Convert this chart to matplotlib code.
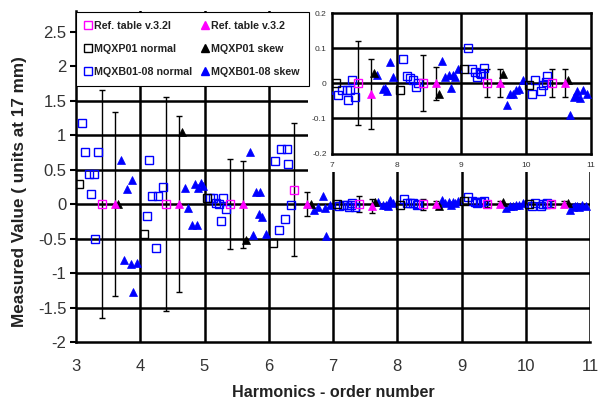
import matplotlib
matplotlib.use("Agg")
import matplotlib.pyplot as plt
from matplotlib.lines import Line2D
from matplotlib.patches import Rectangle

plt.rcParams['font.family'] = ['Liberation Sans', 'DejaVu Sans']

# ---------------- data ----------------
# Reference table (normal), open magenta squares with error bars
ref_n_x = [3.40, 4.40, 5.40, 6.40, 7.40, 8.40, 9.40, 10.40]
ref_n_y = [0.0, 0.0, 0.0, 0.21, 0.0, 0.0, 0.0, 0.0]
ref_n_err = [1.65, 1.55, 0.65, 0.97, 0.12, 0.08, 0.04, 0.04]

# Reference table (skew), magenta triangles with error bars
ref_s_x = [3.60, 4.60, 5.60, 6.60, 7.60, 8.60, 9.60, 10.60]
ref_s_y = [0.0, 0.0, 0.0, 0.0, -0.031, 0.0, 0.0, 0.0]
ref_s_err = [1.33, 1.28, 0.63, 0.18, 0.10, 0.048, 0.04, 0.04]

# MQXP01 normal / skew
mqxp_n_x = [3.04, 4.06, 5.04, 6.07, 7.06, 8.05, 9.04, 10.05]
mqxp_n_y = [0.29, -0.43, 0.09, -0.56, 0.0, -0.019, 0.04, -0.005]
mqxp_s_x = [3.66, 4.65, 5.64, 6.65, 7.65, 8.65, 9.65, 10.65]
mqxp_s_y = [0.0, 1.05, -0.52, 0.0, 0.030, -0.031, 0.027, 0.009]

# MQXB01-08 normal
mqxb_n_x = [3.10, 3.14, 3.35, 3.20, 3.28, 3.24, 3.30,
            4.14, 4.10, 4.35, 4.19, 4.28, 4.25,
            5.08, 5.14, 5.18, 5.22, 5.29, 5.33, 5.25,
            6.10, 6.19, 6.28, 6.30, 6.25, 6.16, 6.34,
            7.09, 7.15, 7.22, 7.28, 7.30, 7.25, 7.35,
            8.10, 8.15, 8.20, 8.25, 8.30, 8.33,
            9.10, 9.16, 9.21, 9.24, 9.29, 9.31, 9.35,
            10.09, 10.14, 10.24, 10.27, 10.31, 10.33]
mqxb_n_y = [1.17, 0.75, 0.75, 0.44, 0.44, 0.15, -0.51,
            0.64, -0.17, 0.25, 0.12, 0.12, -0.64,
            0.09, 0.09, 0.01, 0.0, 0.09, -0.07, -0.24,
            0.62, 0.80, 0.80, 0.58, -0.22, -0.37, -0.02,
            -0.034, -0.019, -0.019, -0.019, 0.009, -0.048, -0.040,
            0.069, 0.021, 0.014, 0.009, -0.010, 0.0,
            0.100, 0.040, 0.033, 0.017, 0.030, 0.027, 0.043,
            -0.031, 0.009, -0.021, -0.005, 0.005, 0.021]

# MQXB01-08 skew
mqxb_s_x = [3.70, 3.80, 3.87, 3.75, 3.85, 3.95, 3.89,
            4.70, 4.75, 4.80, 4.88, 4.85, 4.90, 4.94, 4.97,
            5.71, 5.80, 5.87, 5.85, 5.89, 5.76, 5.95,
            6.71, 6.77, 6.85, 6.87, 6.95, 6.89,
            7.70, 7.78, 7.82, 7.85, 7.89, 7.94,
            8.70, 8.75, 8.81, 8.84, 8.87, 8.90, 8.94,
            9.70, 9.75, 9.80, 9.85, 9.89, 9.95,
            10.69, 10.74, 10.77, 10.79, 10.83, 10.88, 10.94]
mqxb_s_y = [0.64, 0.22, 0.35, -0.81, -0.87, -0.85, -1.27,
            0.24, -0.06, -0.31, -0.31, 0.29, 0.24, 0.30, 0.26,
            0.76, 0.17, 0.17, -0.14, -0.19, -0.45, -0.44,
            -0.09, -0.04, 0.11, -0.06, -0.02, -0.46,
            0.024, -0.017, -0.014, -0.021, 0.060, 0.019,
            0.065, 0.019, 0.024, -0.014, 0.024, 0.019, 0.040,
            -0.062, -0.031, -0.029, -0.019, -0.017, 0.009,
            -0.089, -0.040, -0.033, -0.021, -0.043, -0.019, -0.031]

main_yticks = [-2, -1.5, -1, -0.5, 0, 0.5, 1, 1.5, 2, 2.5]
main_yticklabels = ['-2', '-1.5', '-1', '-0.5', '0', '0.5', '1', '1.5', '2', '2.5']
main_xticks = [3, 4, 5, 6, 7, 8, 9, 10, 11]
inset_yticks = [-0.2, -0.1, 0, 0.1, 0.2]
inset_yticklabels = ['-0.2', '-0.1', '0', '0.1', '0.2']
inset_xticks = [7, 8, 9, 10, 11]

labels = ['Ref. table v.3.2I', 'MQXP01 normal', 'MQXB01-08 normal',
          'Ref. table v.3.2', 'MQXP01 skew', 'MQXB01-08 skew']

MAG = '#ff00ff'
BLUE = '#0000ff'
TXT = '#333333'

W, H = 599, 401
fig = plt.figure(figsize=(W / 100, H / 100), dpi=100)
fig.patch.set_facecolor('white')


def fr(x0, y0, x1, y1):
    return [x0 / W, 1 - y1 / H, (x1 - x0) / W, (y1 - y0) / H]


def draw_data(ax, ms, cap, elw):
    ax.errorbar(ref_n_x, ref_n_y, yerr=ref_n_err, fmt='none', ecolor='black',
                elinewidth=elw, capsize=cap, capthick=elw, zorder=3)
    ax.errorbar(ref_s_x, ref_s_y, yerr=ref_s_err, fmt='none', ecolor='black',
                elinewidth=elw, capsize=cap, capthick=elw, zorder=3)
    ax.plot(mqxb_n_x, mqxb_n_y, 's', ms=ms, mfc='none', mec=BLUE, mew=1.0, zorder=4)
    ax.plot(mqxb_s_x, mqxb_s_y, '^', ms=ms, mfc=BLUE, mec=BLUE, mew=0.5, zorder=4)
    ax.plot(mqxp_n_x, mqxp_n_y, 's', ms=ms, mfc='none', mec='black', mew=1.0, zorder=5)
    ax.plot(mqxp_s_x, mqxp_s_y, '^', ms=ms, mfc='black', mec='black', mew=0.5, zorder=5)
    ax.plot(ref_n_x, ref_n_y, 's', ms=ms, mfc='none', mec=MAG, mew=1.0, zorder=6)
    ax.plot(ref_s_x, ref_s_y, '^', ms=ms, mfc=MAG, mec=MAG, mew=0.5, zorder=6)


# ---------------- main axes ----------------
ax = fig.add_axes(fr(76, 11, 590, 342))
ax.set_zorder(0)
ax.set_xlim(3, 11)
ax.set_ylim(-2, 2.8)
for s in ['top', 'right']:
    ax.spines[s].set_visible(False)
for s in ['left', 'bottom']:
    ax.spines[s].set_linewidth(1.8)
for xv in main_xticks[1:]:
    ax.axvline(xv, color='black', lw=1.8, zorder=1)
for yv in main_yticks[1:8]:
    ax.axhline(yv, color='black', lw=1.8, zorder=1)
ax.set_yticks(main_yticks)
ax.set_yticklabels(main_yticklabels)
ax.set_xticks(main_xticks)
ax.tick_params(axis='y', direction='out', length=4, width=1.5, labelsize=12,
               labelcolor=TXT, pad=3)
ax.tick_params(axis='x', length=0, labelsize=12, labelcolor=TXT, pad=12)
draw_data(ax, 5.5, 2.3, 1.0)
ax.set_xlabel('Harmonics - order number', fontsize=11.6, fontweight='bold',
              color='#222222', labelpad=8)
ax.set_ylabel('Measured Value ( units at 17 mm)', fontsize=12.3,
              fontweight='bold', color='#222222')
ax.yaxis.set_label_coords(-0.095, 0.453)

# white area behind inset
cover = Rectangle((308 / W, 1 - 172 / H), (W - 308) / W, 172 / H,
                  transform=fig.transFigure, facecolor='white', edgecolor='none',
                  zorder=0.5)
fig.add_artist(cover)

# ---------------- inset axes ----------------
ins = fig.add_axes(fr(332.3, 13.3, 590.5, 153.5))
ins.set_zorder(1)
ins.set_xlim(7, 11)
ins.set_ylim(-0.2, 0.2)
for s in ins.spines.values():
    s.set_linewidth(1.8)
for xv in inset_xticks[1:-1]:
    ins.axvline(xv, color='black', lw=1.8, zorder=1)
for yv in inset_yticks[1:-1]:
    ins.axhline(yv, color='black', lw=1.8, zorder=1)
ins.set_yticks(inset_yticks)
ins.set_yticklabels(inset_yticklabels)
ins.set_xticks(inset_xticks)
ins.tick_params(length=0, labelsize=6, labelcolor=TXT)
ins.tick_params(axis='y', pad=4)
ins.tick_params(axis='x', pad=6)
draw_data(ins, 5.2, 2.3, 1.0)

# ---------------- legend ----------------
handles = [
    Line2D([], [], ls='none', marker='s', ms=5.5, mfc='none', mec=MAG, mew=1.0),
    Line2D([], [], ls='none', marker='s', ms=5.5, mfc='none', mec='black', mew=1.0),
    Line2D([], [], ls='none', marker='s', ms=5.5, mfc='none', mec=BLUE, mew=1.0),
    Line2D([], [], ls='none', marker='^', ms=5.5, mfc=MAG, mec=MAG),
    Line2D([], [], ls='none', marker='^', ms=5.5, mfc='black', mec='black'),
    Line2D([], [], ls='none', marker='^', ms=5.5, mfc=BLUE, mec=BLUE),
]
leg = fig.legend(handles, labels, loc='upper left',
                 bbox_to_anchor=(76 / W, 1 - 12 / H), ncol=2, frameon=True,
                 fancybox=False, edgecolor='black', framealpha=1,
                 borderaxespad=0, borderpad=0.85, labelspacing=1.2,
                 handlelength=0.5, handletextpad=0.35, columnspacing=0.9,
                 prop={'weight': 'bold', 'size': 7.7})
leg.get_frame().set_linewidth(0.8)
for t in leg.get_texts():
    t.set_color('#222222')
leg.set_zorder(10)

fig.savefig('out.png', dpi=100, facecolor='white')
